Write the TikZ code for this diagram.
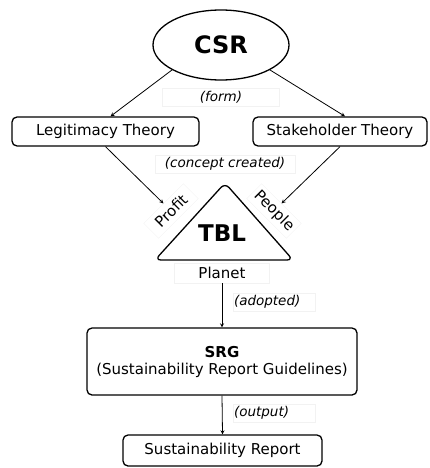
\documentclass[tikz,border=0pt]{standalone}
\usepackage{fontspec}
\setmainfont{DejaVu Sans}
\usetikzlibrary{shapes.geometric}

\begin{document}
\begin{tikzpicture}[x=1pt,y=-1pt]
\tikzstyle{every node}=[inner sep=1pt,font=\fontsize{15}{17}\selectfont]
\tikzstyle{theory}=[draw,rounded corners=5pt,line width=1.3pt,minimum height=29pt]
\tikzstyle{note}=[draw=gray!10,minimum height=18pt,font=\itshape\fontsize{13.5}{15}\selectfont]
\tikzstyle{side}=[draw=gray!10,minimum width=56pt,minimum height=21pt]
\tikzstyle{link}=[-stealth,line width=0.8pt]
\useasboundingbox (0,0) rectangle (430,468);

\node[ellipse,draw,line width=1.3pt,minimum width=136pt,minimum height=70pt,font=\bfseries\fontsize{24}{26}\selectfont] (csr) at (221,45) {CSR};
\node[note,minimum width=117pt] (form) at (221,97) {(form)};
\node[theory,minimum width=187pt] (legit) at (105.5,131.5) {Legitimacy Theory};
\node[theory,minimum width=174pt] (stake) at (340,131.5) {Stakeholder Theory};
\node[note,minimum width=140pt] (created) at (225,164) {(concept created)};

% triangle
\draw[line width=1.3pt,rounded corners=6pt] (225,183) -- (293,260) -- (155,260) -- cycle;
\node[font=\bfseries\fontsize{23}{25}\selectfont] (tbl) at (222,233) {TBL};
\node[side,rotate=45] (profit) at (171,211) {Profit};
\node[side,rotate=-45] (people) at (274,211) {People};
\node[draw=gray!10,minimum width=95pt,minimum height=20pt] (planet) at (222,273) {Planet};

\node[note,text width=80pt,align=left] (adopted) at (274,302) {(adopted)};
\node[theory,minimum width=270pt,minimum height=67pt,align=center] (srg) at (222,361.5) {\textbf{SRG}\\(Sustainability Report Guidelines)};
\node[note,text width=80pt,align=left] (output) at (274,413) {(output)};
\node[theory,minimum width=199pt,minimum height=31pt] (report) at (222.5,450.5) {Sustainability Report};

\draw[link] (csr.207) -- ([xshift=5pt]legit.north);
\draw[link] (csr.333) -- ([xshift=5pt]stake.north);
\draw[link] (legit.south) -- (profit.north);
\draw[link] (stake.south) -- (people.north);
\draw[link] (planet.south) -- (srg.north);
\draw[link] (srg.south) -- (report.north);
\end{tikzpicture}
\end{document}
